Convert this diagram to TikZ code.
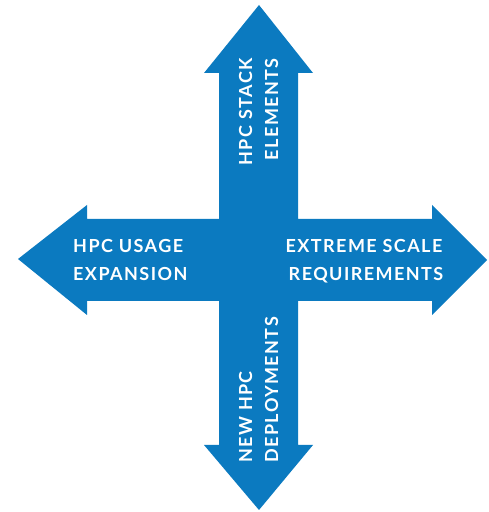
\documentclass[tikz,border=0pt]{standalone}
\usepackage{fontspec}
\setmainfont{Lato}[UprightFont=* Bold, LetterSpace=8]
\definecolor{hpcblue}{RGB}{11,122,192}
\begin{document}
\begin{tikzpicture}[x=1pt,y=1pt,
  lbl/.style={text=white, inner sep=0pt, font=\fontsize{18}{20}\selectfont}]
\useasboundingbox (0,0) rectangle (489,512);
% cross of four arrows (image coords y down -> 512-y)
\fill[hpcblue]
  (259,507) -- (313,439) -- (298,439) -- (298,293) -- (432,293) -- (432,307)
  -- (487,252) -- (432,197) -- (432,211) -- (298,211) -- (298,67) -- (313,67)
  -- (259,2) -- (204,67) -- (219,67) -- (219,211) -- (87,211) -- (87,197)
  -- (18,253) -- (87,307) -- (87,293) -- (219,293) -- (219,439) -- (204,439)
  -- cycle;
% left
\node[lbl, anchor=base west] (usage1) at (73,259) {HPC USAGE};
\node[lbl, anchor=base west] (usage2) at (73,231) {EXPANSION};
% right
\node[lbl, anchor=base] (ext1) at (364,259) {EXTREME SCALE};
\node[lbl, anchor=base] (ext2) at (366,231) {REQUIREMENTS};
% top
\node[lbl, rotate=90, anchor=base east] (stack1) at (252,454) {HPC STACK};
\node[lbl, rotate=90, anchor=base east] (stack2) at (278,454) {ELEMENTS};
% bottom
\node[lbl, rotate=90, anchor=base west] (dep1) at (252,49) {NEW HPC};
\node[lbl, rotate=90, anchor=base west] (dep2) at (278,49) {DEPLOYMENTS};
\end{tikzpicture}
\end{document}
